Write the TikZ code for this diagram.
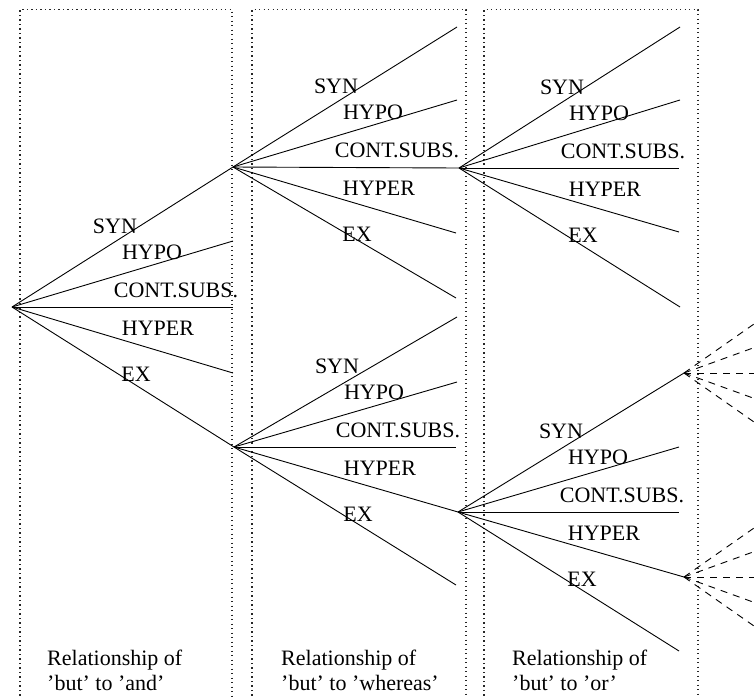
\documentclass[tikz,border=0pt]{standalone}
\usepackage{fontspec}
\setmainfont{Liberation Serif}
\begin{document}
\begin{tikzpicture}[x=1pt,y=-1pt,
  branch/.style={line width=0.9pt},
  further/.style={line width=0.9pt,dash pattern=on 7pt off 6pt},
  panel/.style={line width=1.2pt,black!85,dash pattern=on 1.2pt off 3.3pt},
  lab/.style={inner sep=0pt,font=\fontsize{22}{25}\selectfont},
  caption/.style={inner sep=0pt,anchor=base west,font=\fontsize{22}{25}\selectfont}]
\useasboundingbox (0,0) rectangle (754,697);
\clip (0,0) rectangle (754,697);

% panels
\draw[panel] (20,700) -- (20,9.5) -- (232,9.5) -- (232,700);
\draw[panel] (252,700) -- (252,9.5) -- (466,9.5) -- (466,700);
\draw[panel] (484,700) -- (484,9.5) -- (698,9.5) -- (698,700);

% branching points
\coordinate (r0) at (12,307);
\coordinate (r1) at (233,167);
\coordinate (r2) at (234,447);
\coordinate (r3) at (459,168);
\coordinate (r4) at (458,512);
\coordinate (s1) at (684,373);
\coordinate (s2) at (684,577);

% free ends
\coordinate (a2) at (233,241);
\coordinate (a3) at (233,307);
\coordinate (a4) at (233,373);
\coordinate (b1) at (457,27);
\coordinate (b2) at (457,100);
\coordinate (b4) at (456,233);
\coordinate (b5) at (456,298);
\coordinate (c1) at (457,317);
\coordinate (c2) at (457,382);
\coordinate (c3) at (456,447);
\coordinate (c5) at (456,585);
\coordinate (d1) at (680,27);
\coordinate (d2) at (680,100);
\coordinate (d3) at (679,168);
\coordinate (d4) at (679,232);
\coordinate (d5) at (680,307);
\coordinate (e2) at (679,447);
\coordinate (e3) at (679,512);
\coordinate (e5) at (679,651);

% solid branches
\draw[branch] (r0) -- (r1);
\draw[branch] (r0) -- (a2);
\draw[branch] (r0) -- (a3);
\draw[branch] (r0) -- (a4);
\draw[branch] (r0) -- (r2);
\draw[branch] (r1) -- (b1);
\draw[branch] (r1) -- (b2);
\draw[branch] (r1) -- (r3);
\draw[branch] (r1) -- (b4);
\draw[branch] (r1) -- (b5);
\draw[branch] (r2) -- (c1);
\draw[branch] (r2) -- (c2);
\draw[branch] (r2) -- (c3);
\draw[branch] (r2) -- (r4);
\draw[branch] (r2) -- (c5);
\draw[branch] (r3) -- (d1);
\draw[branch] (r3) -- (d2);
\draw[branch] (r3) -- (d3);
\draw[branch] (r3) -- (d4);
\draw[branch] (r3) -- (d5);
\draw[branch] (r4) -- (s1);
\draw[branch] (r4) -- (e2);
\draw[branch] (r4) -- (e3);
\draw[branch] (r4) -- (s2);
\draw[branch] (r4) -- (e5);

% dashed continuations
\foreach \s in {s1,s2} {
  \coordinate (\s u2) at ([shift={(80,-56)}]\s);
  \coordinate (\s u1) at ([shift={(80,-29)}]\s);
  \coordinate (\s m)  at ([shift={(80,0)}]\s);
  \coordinate (\s l1) at ([shift={(80,29)}]\s);
  \coordinate (\s l2) at ([shift={(80,56)}]\s);
  \draw[further] (\s) -- (\s u2);
  \draw[further] (\s) -- (\s u1);
  \draw[further] (\s) -- (\s m);
  \draw[further] (\s) -- (\s l1);
  \draw[further] (\s) -- (\s l2);
}

% relation labels of every fan
\foreach \r in {r0,r1,r2,r3,r4} {
  \node[lab] (\r syn)   at ([shift={(103,-81)}]\r) {SYN};
  \node[lab] (\r hypo)  at ([shift={(140,-55)}]\r) {HYPO};
  \node[lab] (\r cont)  at ([shift={(164,-17)}]\r) {CONT.SUBS.};
  \node[lab] (\r hyper) at ([shift={(146,21)}]\r) {HYPER};
  \node[lab] (\r ex)    at ([shift={(124,67)}]\r) {EX};
}

% panel captions
\node[caption] (p1a) at (47,665) {Relationship of};
\node[caption] (p1b) at (47,690) {'but' to 'and'};
\node[caption] (p2a) at (281,665) {Relationship of};
\node[caption] (p2b) at (281,690) {'but' to 'whereas'};
\node[caption] (p3a) at (512,665) {Relationship of};
\node[caption] (p3b) at (512,690) {'but' to 'or'};
\end{tikzpicture}
\end{document}
